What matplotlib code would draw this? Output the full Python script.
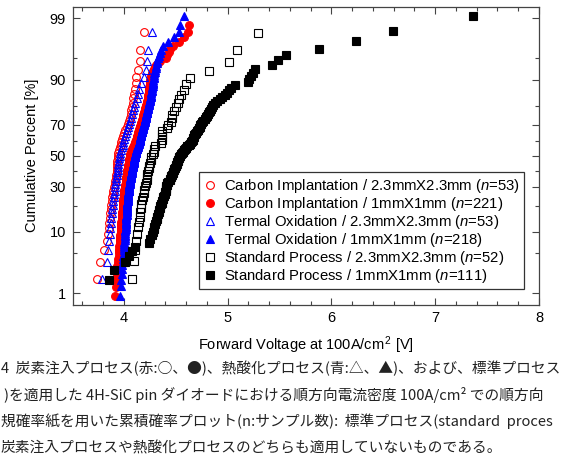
import numpy as np
import matplotlib
matplotlib.use('Agg')
import matplotlib.pyplot as plt
from matplotlib.ticker import FixedLocator, MultipleLocator, NullFormatter
from statistics import NormalDist

plt.rcParams['font.family'] = ['Liberation Sans', 'DejaVu Sans']
plt.rcParams['mathtext.fontset'] = 'custom'
plt.rcParams['mathtext.rm'] = 'Liberation Sans'
plt.rcParams['mathtext.it'] = 'Liberation Sans:italic'

# forward voltages [V], sorted, one value per diode
vf_carbon_big = [3.745, 3.77, 3.81, 3.84, 3.85, 3.855, 3.86, 3.865, 3.87, 3.875,
                 3.88, 3.885, 3.89, 3.895, 3.90, 3.905, 3.91, 3.915, 3.92, 3.925,
                 3.93, 3.932, 3.934, 3.936, 3.938, 3.94, 3.942, 3.945, 3.95, 3.96,
                 3.97, 3.975, 3.985, 3.995, 4.005, 4.015, 4.03, 4.04, 4.05, 4.055,
                 4.065, 4.07, 4.08, 4.085, 4.09, 4.10, 4.11, 4.115, 4.12, 4.135,
                 4.16, 4.16, 4.19]

vf_carbon_small = [3.90, 3.915, 3.923, 3.928, 3.932, 3.935, 3.938, 3.942, 3.946, 3.95,
                   3.952, 3.954, 3.956, 3.958, 3.96, 3.961, 3.963, 3.964, 3.966, 3.967,
                   3.968, 3.969, 3.970, 3.971, 3.972, 3.973, 3.974, 3.975, 3.977, 3.978,
                   3.979, 3.980, 3.981, 3.982, 3.983, 3.984, 3.985, 3.986, 3.987, 3.988,
                   3.988, 3.989, 3.990, 3.990, 3.991, 3.992, 3.993, 3.993, 3.994, 3.995,
                   3.996, 3.996, 3.997, 3.998, 3.999, 4.000, 4.000, 4.001, 4.002, 4.003,
                   4.004, 4.005, 4.007, 4.008, 4.009, 4.010, 4.011, 4.013, 4.014, 4.016,
                   4.017, 4.018, 4.019, 4.020, 4.021, 4.022, 4.022, 4.023, 4.024, 4.025,
                   4.026, 4.027, 4.028, 4.029, 4.030, 4.031, 4.032, 4.033, 4.034, 4.035,
                   4.036, 4.037, 4.039, 4.040, 4.041, 4.043, 4.044, 4.045, 4.047, 4.048,
                   4.049, 4.050, 4.051, 4.052, 4.053, 4.054, 4.055, 4.056, 4.057, 4.058,
                   4.060, 4.062, 4.064, 4.066, 4.068, 4.070, 4.072, 4.074, 4.077, 4.080,
                   4.083, 4.086, 4.089, 4.092, 4.095, 4.098, 4.101, 4.104, 4.107, 4.110,
                   4.112, 4.114, 4.116, 4.118, 4.120, 4.122, 4.124, 4.126, 4.128, 4.130,
                   4.132, 4.134, 4.136, 4.138, 4.140, 4.142, 4.144, 4.146, 4.148, 4.150,
                   4.152, 4.155, 4.157, 4.160, 4.162, 4.165, 4.167, 4.170, 4.172, 4.175,
                   4.177, 4.179, 4.181, 4.183, 4.185, 4.187, 4.189, 4.191, 4.193, 4.195,
                   4.197, 4.200, 4.202, 4.204, 4.207, 4.209, 4.212, 4.214, 4.217, 4.220,
                   4.222, 4.224, 4.226, 4.228, 4.230, 4.232, 4.234, 4.236, 4.238, 4.240,
                   4.241, 4.243, 4.244, 4.246, 4.247, 4.249, 4.250, 4.252, 4.253, 4.255,
                   4.258, 4.262, 4.267, 4.273, 4.280, 4.288, 4.298, 4.310, 4.325, 4.350,
                   4.41, 4.42, 4.435, 4.44, 4.475, 4.53, 4.58, 4.62, 4.63, 8.4, 8.6]

vf_oxide_big = [3.79, 3.84, 3.85, 3.855, 3.862, 3.868, 3.875, 3.88, 3.886, 3.89,
                3.895, 3.90, 3.903, 3.907, 3.91, 3.913, 3.916, 3.92, 3.925, 3.93,
                3.935, 3.94, 3.943, 3.946, 3.95, 3.955, 3.96, 3.965, 3.975, 3.98,
                3.99, 3.995, 4.00, 4.015, 4.025, 4.035, 4.04, 4.046, 4.06, 4.07,
                4.08, 4.09, 4.095, 4.11, 4.125, 4.14, 4.15, 4.165, 4.19, 4.21,
                4.225, 4.23, 4.275]

vf_oxide_small = [3.95, 3.966, 3.972, 3.975, 3.978, 3.982, 3.985, 3.988, 3.991, 3.995,
                  3.997, 3.999, 4.001, 4.003, 4.005, 4.006, 4.008, 4.009, 4.011, 4.012,
                  4.013, 4.014, 4.015, 4.016, 4.017, 4.018, 4.019, 4.020, 4.021, 4.022,
                  4.023, 4.024, 4.024, 4.025, 4.026, 4.027, 4.027, 4.028, 4.029, 4.030,
                  4.031, 4.031, 4.032, 4.033, 4.033, 4.034, 4.035, 4.035, 4.036, 4.037,
                  4.038, 4.038, 4.039, 4.040, 4.041, 4.041, 4.042, 4.043, 4.044, 4.045,
                  4.046, 4.047, 4.048, 4.049, 4.050, 4.051, 4.052, 4.053, 4.054, 4.055,
                  4.056, 4.058, 4.059, 4.060, 4.062, 4.063, 4.064, 4.065, 4.067, 4.068,
                  4.069, 4.070, 4.072, 4.073, 4.074, 4.075, 4.076, 4.077, 4.079, 4.080,
                  4.081, 4.083, 4.084, 4.086, 4.087, 4.089, 4.090, 4.092, 4.093, 4.095,
                  4.096, 4.097, 4.098, 4.099, 4.100, 4.101, 4.103, 4.104, 4.105, 4.107,
                  4.109, 4.111, 4.113, 4.115, 4.117, 4.118, 4.120, 4.121, 4.123, 4.125,
                  4.127, 4.130, 4.132, 4.135, 4.137, 4.140, 4.142, 4.145, 4.147, 4.150,
                  4.151, 4.153, 4.154, 4.156, 4.157, 4.159, 4.160, 4.162, 4.163, 4.165,
                  4.167, 4.169, 4.171, 4.173, 4.175, 4.177, 4.179, 4.181, 4.183, 4.185,
                  4.187, 4.189, 4.191, 4.193, 4.195, 4.197, 4.199, 4.201, 4.203, 4.205,
                  4.207, 4.209, 4.211, 4.213, 4.215, 4.217, 4.219, 4.221, 4.223, 4.225,
                  4.227, 4.230, 4.232, 4.235, 4.237, 4.240, 4.242, 4.245, 4.247, 4.250,
                  4.252, 4.254, 4.256, 4.258, 4.260, 4.262, 4.264, 4.266, 4.268, 4.270,
                  4.272, 4.274, 4.276, 4.278, 4.280, 4.282, 4.284, 4.286, 4.288, 4.290,
                  4.293, 4.297, 4.300, 4.305, 4.310, 4.316, 4.322, 4.330, 4.340, 4.350,
                  4.36, 4.38, 4.43, 4.48, 4.535, 4.54, 4.575, 4.62]

vf_std_big = [4.077, 4.094, 4.11, 4.12, 4.127, 4.135, 4.144, 4.159, 4.16, 4.165,
              4.168, 4.175, 4.183, 4.19, 4.197, 4.207, 4.216, 4.22, 4.223, 4.225,
              4.23, 4.24, 4.245, 4.255, 4.26, 4.265, 4.285, 4.29, 4.29, 4.30,
              4.36, 4.365, 4.367, 4.367, 4.37, 4.415, 4.43, 4.45, 4.46, 4.465,
              4.48, 4.505, 4.52, 4.53, 4.55, 4.575, 4.60, 4.64, 4.825, 5.01,
              5.09, 5.29]

vf_std_small = [3.45, 3.854, 3.905, 4.014, 4.046, 4.079, 4.11, 4.24, 4.255, 4.27,
                4.28, 4.29, 4.295, 4.30, 4.31, 4.315, 4.32, 4.33, 4.335, 4.34,
                4.345, 4.35, 4.36, 4.367, 4.37, 4.375, 4.38, 4.39, 4.395, 4.40,
                4.402, 4.405, 4.407, 4.41, 4.415, 4.42, 4.43, 4.44, 4.445, 4.45,
                4.455, 4.46, 4.47, 4.475, 4.48, 4.487, 4.49, 4.50, 4.505, 4.51,
                4.515, 4.52, 4.525, 4.53, 4.535, 4.54, 4.55, 4.56, 4.57, 4.58,
                4.59, 4.60, 4.61, 4.625, 4.635, 4.65, 4.66, 4.665, 4.67, 4.675,
                4.68, 4.69, 4.695, 4.70, 4.71, 4.72, 4.73, 4.735, 4.745, 4.755,
                4.765, 4.78, 4.79, 4.80, 4.81, 4.82, 4.83, 4.84, 4.85, 4.86,
                4.88, 4.90, 4.93, 4.95, 4.97, 4.99, 5.01, 5.03, 5.07, 5.20,
                5.21, 5.225, 5.24, 5.26, 5.43, 5.49, 5.56, 5.88, 6.24, 6.59,
                7.36]

labels = ['Carbon Implantation / 2.3mmX2.3mm ($n$=53)',
          'Carbon Implantation / 1mmX1mm ($n$=221)',
          'Termal Oxidation / 2.3mmX2.3mm ($n$=53)',
          'Termal Oxidation / 1mmX1mm ($n$=218)',
          'Standard Process / 2.3mmX2.3mm ($n$=52)',
          'Standard Process / 1mmX1mm ($n$=111)']

pct_ticks = [1, 10, 30, 50, 70, 90, 99]
pct_minor = [5, 20, 40, 60, 80, 95]

# caption lines as visible in the page crop
caption = ['4  炭素注入プロセス(赤:○、●)、熱酸化プロセス(青:△、▲)、および、標準プロセス',
           ')を適用した 4H-SiC pin ダイオードにおける順方向電流密度 100A/cm² での順方向',
           '規確率紙を用いた累積確率プロット(n:サンプル数):  標準プロセス(standard  proces',
           '炭素注入プロセスや熱酸化プロセスのどちらも適用していないものである。']

# normal probability scale
nd = NormalDist()


def fwd(p):
    p = np.clip(np.asarray(p, dtype=float) / 100.0, 1e-9, 1 - 1e-9)
    return np.vectorize(nd.inv_cdf, otypes=[float])(p)


def inv(z):
    return np.vectorize(nd.cdf, otypes=[float])(np.asarray(z, dtype=float)) * 100.0


def rank_pct(v):
    n = len(v)
    return 100.0 * np.arange(1, n + 1) / (n + 1)


fig = plt.figure(figsize=(5.73, 4.61), dpi=100)
ax = fig.add_axes([73 / 573, 1 - 304.5 / 461, 466 / 573, 297.5 / 461])
ax.set_yscale('function', functions=(fwd, inv))

ms = 5.6
series = [
    (vf_carbon_big, dict(marker='o', mfc='none', mec='red', ms=ms)),
    (vf_carbon_small, dict(marker='o', mfc='red', mec='red', ms=ms)),
    (vf_oxide_big, dict(marker='^', mfc='none', mec='blue', ms=ms)),
    (vf_oxide_small, dict(marker='^', mfc='blue', mec='blue', ms=ms)),
    (vf_std_big, dict(marker='s', mfc='none', mec='black', ms=ms - 0.4)),
    (vf_std_small, dict(marker='s', mfc='black', mec='black', ms=ms - 0.4)),
]
for (v, style), lab in zip(series, labels):
    ax.plot(v, rank_pct(v), ls='none', mew=0.8, label=lab, **style)

ax.set_xlim(3.51, 8.0)
ax.set_ylim(0.6, 99.4)
ax.set_xticks([4, 5, 6, 7, 8])
ax.xaxis.set_minor_locator(MultipleLocator(0.2))
ax.yaxis.set_major_locator(FixedLocator(pct_ticks))
ax.yaxis.set_minor_locator(FixedLocator(pct_minor))
ax.yaxis.set_minor_formatter(NullFormatter())
ax.set_yticklabels([str(t) for t in pct_ticks])

ax.tick_params(which='both', direction='in', top=True, right=True,
               color='#444444', labelsize=10.5)
ax.tick_params(which='major', length=5, width=0.8, pad=5)
ax.tick_params(which='minor', length=3, width=0.8)
for s in ax.spines.values():
    s.set_color('#444444')
    s.set_linewidth(0.9)

ax.set_xlabel('Forward Voltage at 100A/cm$^{\\,2}$ [V]', fontsize=10.5)
ax.xaxis.set_label_coords(0.5, -0.102)
ax.set_ylabel('Cumulative Percent [%]', fontsize=10.5)
ax.yaxis.set_label_coords(-0.072, 0.5)

leg = ax.legend(loc='upper left', bbox_to_anchor=(0.270, 0.444), borderaxespad=0,
                fontsize=10.7, numpoints=1, handlelength=0.9, handletextpad=0.5,
                labelspacing=0.0, borderpad=0.3, fancybox=False, framealpha=1)
leg.get_frame().set_edgecolor('#333333')
leg.get_frame().set_linewidth(0.9)

# caption text below the chart
ys = [368, 395, 421, 448]
xs = [1, 4, 1, 1]
for line, y, x in zip(caption, ys, xs):
    fig.text(x / 573, 1 - y / 461, line, fontsize=10.6, va='center', ha='left',
             family=['Noto Sans CJK JP', 'DejaVu Sans'], color='#222222')

fig.savefig('out.png', dpi=100)
